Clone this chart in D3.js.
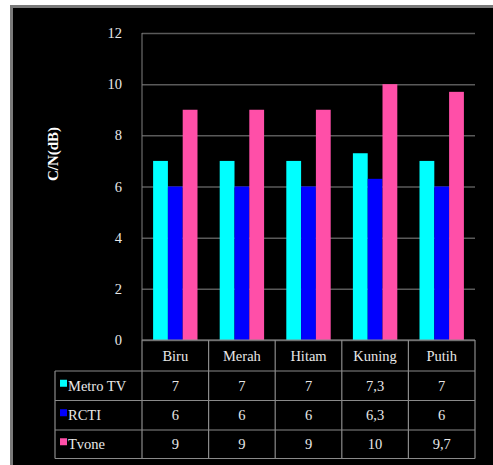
<!DOCTYPE html>
<html>
<head>
<meta charset="utf-8">
<script src="https://cdn.jsdelivr.net/npm/d3@7"></script>
<style>
  html, body { margin: 0; padding: 0; background: #fff; }
  svg { display: block; }
</style>
</head>
<body>
<div class="chart-container"></div>
<script>
const categories = ['Biru', 'Merah', 'Hitam', 'Kuning', 'Putih'];
const seriesNames = ['Metro TV', 'RCTI', 'Tvone'];
const metroTV = [7, 7, 7, 7.3, 7];
const rcti = [6, 6, 6, 6.3, 6];
const tvone = [9, 9, 9, 10, 9.7];
const yTicks = [0, 2, 4, 6, 8, 10, 12];
const colors = ['#00ffff', '#0000ff', '#ff4fa8'];

const series = [metroTV, rcti, tvone];

const width = 493;
const height = 465;
const marginLeft = 142;
const marginRight = 18;
const marginTop = 33;
const plotBottom = 340;
const rowH = [31, 29.5, 29.5, 28.5]; // header row + 3 series rows
const legendLeft = 55;
const fontSize = '14.5px';

const svg = d3.select('.chart-container')
  .append('svg')
  .attr('width', width)
  .attr('height', height)
  .attr('viewBox', [0, 0, width, height]);

// fond noir + cadre gris
svg.append('rect')
  .attr('x', 10).attr('y', 5)
  .attr('width', width - 10).attr('height', height - 5)
  .attr('fill', '#7a7a7a');
svg.append('rect')
  .attr('x', 13).attr('y', 8)
  .attr('width', width - 13).attr('height', height - 8)
  .attr('fill', '#000');

const x = d3.scaleBand()
  .domain(categories)
  .range([marginLeft, width - marginRight]);

const x1 = d3.scaleBand()
  .domain(seriesNames)
  .range([x.bandwidth() / 6, x.bandwidth() * 5 / 6]);

const y = d3.scaleLinear()
  .domain([0, 12])
  .range([plotBottom, marginTop]);

// Grille horizontale
svg.append('g')
  .attr('transform', `translate(${marginLeft},0)`)
  .call(
    d3.axisLeft(y)
      .tickValues(yTicks)
      .tickSize(-(width - marginLeft - marginRight))
      .tickFormat(() => '')
  )
  .call(g => g.select('.domain').remove())
  .selectAll('line')
  .attr('stroke', '#5a5a5a')
  .attr('stroke-width', 1.5);

// axe vertical (ligne gauche)
svg.append('line')
  .attr('x1', marginLeft).attr('x2', marginLeft)
  .attr('y1', marginTop).attr('y2', plotBottom)
  .attr('stroke', '#808080')
  .attr('stroke-width', 1);

const textStyle = sel => sel
  .attr('fill', '#e8e8e8')
  .style('font-family', '"Liberation Serif", serif')
  .style('font-size', fontSize);

// Etiquettes Y
svg.append('g')
  .selectAll('text')
  .data(yTicks)
  .join('text')
  .attr('x', 122)
  .attr('y', d => y(d))
  .attr('dy', '0.35em')
  .attr('text-anchor', 'end')
  .call(textStyle)
  .text(d => d);

// Titre Y
svg.append('text')
  .attr('transform', `translate(58,${154}) rotate(-90)`)
  .attr('text-anchor', 'middle')
  .attr('fill', '#ffffff')
  .style('font-family', '"Liberation Serif", serif')
  .style('font-size', '15px')
  .style('font-weight', 'bold')
  .text('C/N(dB)');

// Barres
seriesNames.forEach((name, i) => {
  svg.append('g')
    .selectAll('rect')
    .data(series[i])
    .join('rect')
    .attr('x', (d, j) => x(categories[j]) + x1(name))
    .attr('y', d => y(d))
    .attr('width', x1.bandwidth())
    .attr('height', d => y(0) - y(d))
    .attr('fill', colors[i]);
});

// Tableau de données
const tableColor = '#8a8a8a';
const rowY = [plotBottom];
rowH.forEach(h => rowY.push(rowY[rowY.length - 1] + h));
const table = svg.append('g')
  .attr('fill', 'none')
  .attr('stroke', tableColor)
  .attr('stroke-width', 1.2);

// lignes horizontales
rowY.forEach((yy, k) => {
  table.append('line')
    .attr('x1', k === 0 ? marginLeft : legendLeft)
    .attr('x2', width - marginRight)
    .attr('y1', yy).attr('y2', yy);
});
// lignes verticales
categories.forEach(c => {
  table.append('line')
    .attr('x1', x(c)).attr('x2', x(c))
    .attr('y1', plotBottom).attr('y2', rowY[4]);
});
table.append('line')
  .attr('x1', width - marginRight).attr('x2', width - marginRight)
  .attr('y1', plotBottom).attr('y2', rowY[4]);
table.append('line')
  .attr('x1', legendLeft).attr('x2', legendLeft)
  .attr('y1', rowY[1]).attr('y2', rowY[4]);

// en-têtes catégories
svg.append('g')
  .selectAll('text')
  .data(categories)
  .join('text')
  .attr('x', d => x(d) + x.bandwidth() / 2)
  .attr('y', (rowY[0] + rowY[1]) / 2)
  .attr('dy', '0.35em')
  .attr('text-anchor', 'middle')
  .call(textStyle)
  .text(d => d);

// lignes séries
seriesNames.forEach((name, i) => {
  const cy = (rowY[i + 1] + rowY[i + 2]) / 2;
  svg.append('rect')
    .attr('x', legendLeft + 5)
    .attr('y', cy - 6)
    .attr('width', 7).attr('height', 7)
    .attr('fill', colors[i]);
  svg.append('text')
    .attr('x', legendLeft + 13)
    .attr('y', cy)
    .attr('dy', '0.35em')
    .call(textStyle)
    .text(name);
  svg.append('g')
    .selectAll('text')
    .data(series[i])
    .join('text')
    .attr('x', (d, j) => x(categories[j]) + x.bandwidth() / 2)
    .attr('y', cy)
    .attr('dy', '0.35em')
    .attr('text-anchor', 'middle')
    .call(textStyle)
    .text(d => String(d).replace('.', ','));
});
</script>
</body>
</html>
